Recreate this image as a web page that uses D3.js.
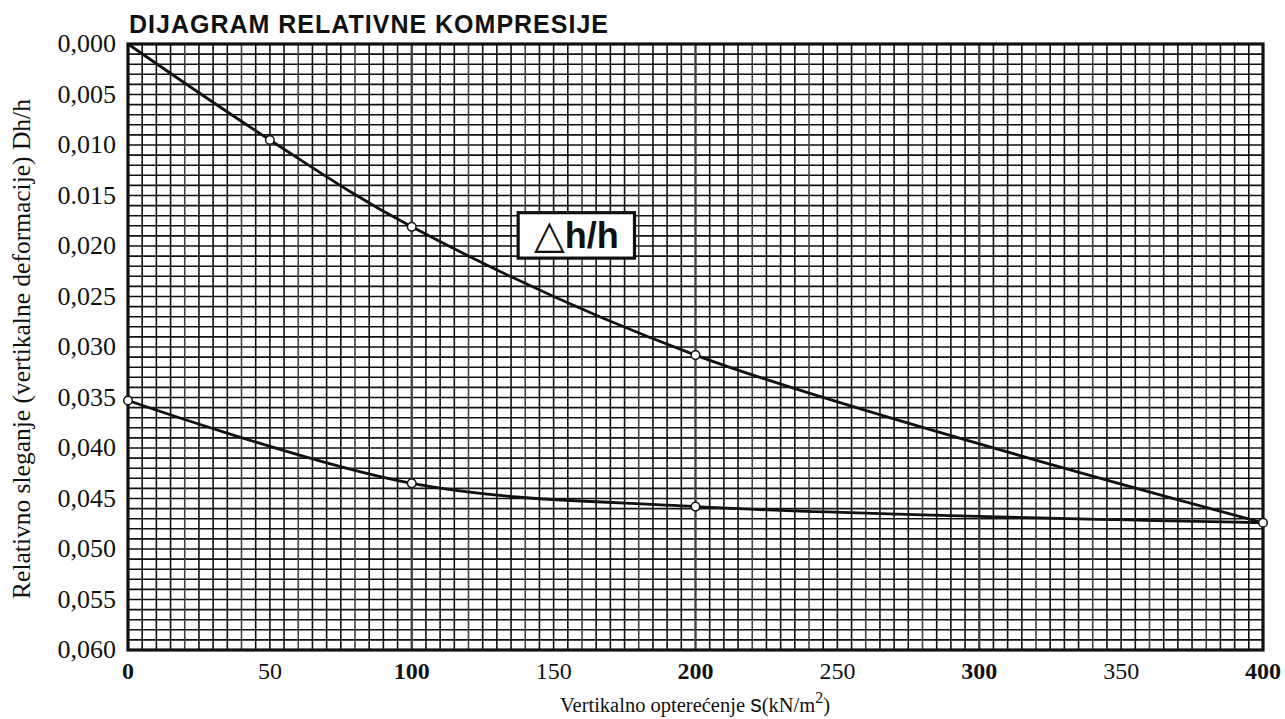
<!DOCTYPE html>
<html>
<head>
<meta charset="utf-8">
<style>
    body { margin: 0; background: #fff; }
    svg text { fill: #111; }
    .tick-y { font-family: 'Liberation Serif', 'Times New Roman', serif; font-size: 26px; }
    .tick-x { font-family: 'Liberation Serif', 'Times New Roman', serif; font-size: 24px; }
    .title { font-family: 'Liberation Sans', Arial, sans-serif; font-weight: bold; font-size: 25px; }
    .axis-title { font-family: 'Liberation Serif', 'Times New Roman', serif; font-size: 20.5px; }
    .y-title { font-family: 'Liberation Serif', 'Times New Roman', serif; font-size: 25.5px; }
</style>
</head>
<body>
<svg width="1285" height="719"></svg>
<script src="https://d3js.org/d3.v7.min.js"></script>
<script>
    // axis ticks
    var xTicks = [0, 50, 100, 150, 200, 250, 300, 350, 400];
    var xBold = [0, 100, 200, 300, 400];
    var yTicks = [0, 0.005, 0.010, 0.015, 0.020, 0.025, 0.030, 0.035, 0.040, 0.045, 0.050, 0.055, 0.060];
    var yLabels = ['0,000', '0,005', '0,010', '0.015', '0,020', '0,025', '0,030', '0,035', '0,040', '0,045', '0,050', '0,055', '0,060'];

    // loading curve (opterecenje)
    var loadX = [0, 50, 100, 200, 400];
    var loadY = [0.0000, 0.0095, 0.0181, 0.0308, 0.0474];
    // unloading curve (rasterecenje)
    var unloadX = [0, 100, 200, 400];
    var unloadY = [0.0353, 0.0435, 0.0458, 0.0474];

    var plotL = 128, plotR = 1263, plotT = 44, plotB = 650;

    var x = d3.scaleLinear().domain([0, 400]).range([plotL, plotR]);
    var y = d3.scaleLinear().domain([0, 0.060]).range([plotT, plotB]);

    var svg = d3.select('svg');

    // grid - vertical every 5, horizontal every 0.001
    var vLines = d3.range(5, 400, 5);
    var hLines = d3.range(1, 60).map(function (d) { return d / 1000; });

    svg.append('g').selectAll('line')
        .data(hLines).enter().append('line')
        .attr('x1', plotL).attr('x2', plotR)
        .attr('y1', function (d) { return y(d); })
        .attr('y2', function (d) { return y(d); })
        .attr('stroke', '#111')
        .attr('stroke-width', 1.6);

    svg.append('g').selectAll('line')
        .data(vLines).enter().append('line')
        .attr('y1', plotT).attr('y2', plotB)
        .attr('x1', function (d) { return x(d); })
        .attr('x2', function (d) { return x(d); })
        .attr('stroke', function (d) { return d % 20 == 0 ? '#444' : '#111'; })
        .attr('stroke-width', function (d) { return d % 100 == 0 ? 2.4 : 1.6; });

    svg.append('rect')
        .attr('x', plotL).attr('y', plotT)
        .attr('width', plotR - plotL).attr('height', plotB - plotT)
        .attr('fill', 'none')
        .attr('stroke', '#111')
        .attr('stroke-width', 3.2);

    // tick labels
    svg.append('g').selectAll('text')
        .data(yTicks).enter().append('text')
        .attr('class', 'tick-y')
        .attr('x', plotL - 12)
        .attr('y', function (d) { return y(d) + 8; })
        .attr('text-anchor', 'end')
        .text(function (d, i) { return yLabels[i]; });

    svg.append('g').selectAll('text')
        .data(xTicks).enter().append('text')
        .attr('class', 'tick-x')
        .attr('x', function (d) { return x(d); })
        .attr('y', 679)
        .attr('text-anchor', 'middle')
        .attr('font-weight', function (d) { return xBold.indexOf(d) >= 0 ? 'bold' : 'normal'; })
        .text(function (d) { return d; });

    // titles
    svg.append('text').attr('class', 'title')
        .attr('x', plotL + 1).attr('y', 33)
        .attr('textLength', 479)
        .text('DIJAGRAM RELATIVNE KOMPRESIJE');

    var xt = svg.append('text').attr('class', 'axis-title')
        .attr('x', 695).attr('y', 712)
        .attr('text-anchor', 'middle');
    xt.append('tspan').text('Vertikalno opterećenje  ');
    xt.append('tspan').attr('font-family', "'Liberation Sans', Arial, sans-serif").style('font-size', '23px').text('s');
    xt.append('tspan').text('(kN/m');
    xt.append('tspan').style('font-size', '16px').attr('dy', -9).text('2');
    xt.append('tspan').attr('dy', 9).text(')');

    svg.append('text').attr('class', 'y-title')
        .attr('transform', 'translate(30,349) rotate(-90)')
        .attr('text-anchor', 'middle')
        .text('Relativno sleganje (vertikalne deformacije) Dh/h');

    // curves
    var line = d3.line()
        .x(function (d) { return x(d[0]); })
        .y(function (d) { return y(d[1]); })
        .curve(d3.curveCatmullRom.alpha(0.5));

    var loadPts = loadX.map(function (d, i) { return [d, loadY[i]]; });
    var unloadPts = unloadX.map(function (d, i) { return [d, unloadY[i]]; });

    [loadPts, unloadPts].forEach(function (pts) {
        svg.append('path')
            .datum(pts)
            .attr('d', line)
            .attr('fill', 'none')
            .attr('stroke', '#111')
            .attr('stroke-width', 2.8);
    });

    var marks = loadPts.slice(1).concat(unloadPts.slice(0, 3));
    svg.append('g').selectAll('circle')
        .data(marks).enter().append('circle')
        .attr('cx', function (d) { return x(d[0]); })
        .attr('cy', function (d) { return y(d[1]); })
        .attr('r', 4.3)
        .attr('fill', '#fff')
        .attr('stroke', '#111')
        .attr('stroke-width', 1.5);

    // label box
    var bx0 = 137.5, bx1 = 178.5, by0 = 0.0167, by1 = 0.0212;
    svg.append('rect')
        .attr('x', x(bx0)).attr('y', y(by0))
        .attr('width', x(bx1) - x(bx0)).attr('height', y(by1) - y(by0))
        .attr('fill', '#fff')
        .attr('stroke', '#111')
        .attr('stroke-width', 3.2);
    var lbl = svg.append('text')
        .attr('x', (x(bx0) + x(bx1)) / 2)
        .attr('y', y(by1) - 10)
        .attr('text-anchor', 'middle')
        .attr('font-family', "'Liberation Sans', Arial, sans-serif")
        .attr('font-weight', 'bold')
        .attr('font-size', 36);
    lbl.append('tspan').attr('font-family', "'DejaVu Sans', sans-serif").attr('font-weight', 'normal').attr('font-size', 40).text('△');
    lbl.append('tspan').text('h/h');
</script>
</body>
</html>
